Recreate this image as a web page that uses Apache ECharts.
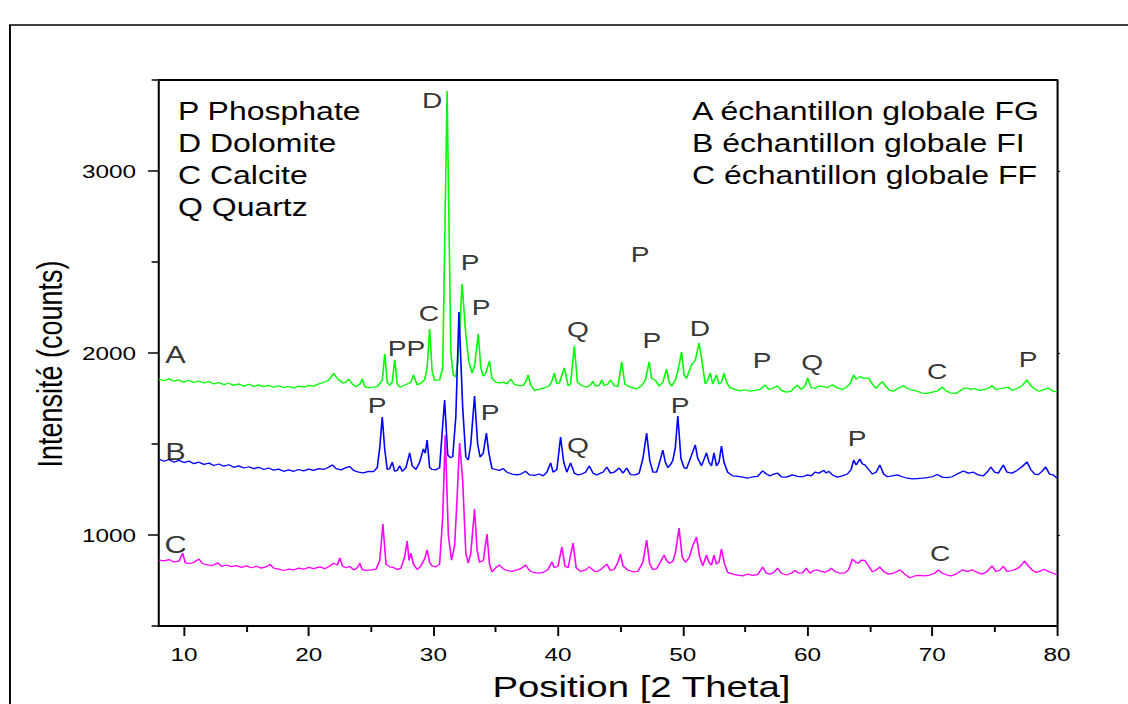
<!DOCTYPE html>
<html><head><meta charset="utf-8">
<script src="https://cdn.jsdelivr.net/npm/echarts@6/dist/echarts.min.js"></script>
<style>
html,body{margin:0;padding:0;background:#fff;overflow:hidden;width:1128px;height:704px}
#chart{width:881px;height:704px;transform:scaleX(1.280363);transform-origin:0 0;}
</style>
</head><body><div id="chart"></div>
<script>
// ---- data ----
const xTicks = [10,20,30,40,50,60,70,80];
const xMinorTicks = [15,25,35,45,55,65,75];
const yTicks = [1000,2000,3000];
const yMinorTicks = [500,1500,2500,3500];

const dataA = [[8.0,1855],[8.4,1848],[8.8,1858],[9.2,1845],[9.6,1852],[10.0,1840],[10.4,1850],[10.8,1838],[11.2,1846],[11.6,1835],[12.0,1843],[12.4,1830],[12.8,1838],[13.2,1826],[13.6,1834],[14.0,1822],[14.4,1830],[14.8,1818],[15.2,1828],[15.6,1816],[16.0,1825],[16.4,1815],[16.8,1822],[17.2,1812],[17.6,1820],[18.0,1810],[18.4,1816],[18.8,1808],[19.2,1818],[19.6,1812],[20.0,1822],[20.4,1818],[20.8,1830],[21.2,1838],[21.6,1850],[22.0,1888],[22.3,1860],[22.75,1835],[23.0,1840],[23.2,1857],[23.5,1830],[23.8,1815],[24.1,1828],[24.3,1857],[24.5,1815],[24.8,1808],[25.2,1812],[25.5,1815],[25.9,1850],[26.1,1995],[26.3,1840],[26.5,1822],[26.7,1840],[26.9,1962],[27.1,1830],[27.3,1812],[27.6,1820],[27.9,1830],[28.2,1840],[28.4,1879],[28.7,1825],[29.0,1835],[29.3,1852],[29.5,1920],[29.7,2132],[29.9,1900],[30.1,1850],[30.5,1852],[30.75,1920],[31.1,3440],[31.4,2000],[31.6,1880],[31.8,1868],[32.0,1980],[32.3,2379],[32.6,2100],[32.85,1950],[33.1,1890],[33.3,1930],[33.6,2104],[33.8,1920],[34.0,1872],[34.2,1890],[34.5,1956],[34.7,1860],[35.0,1840],[35.3,1835],[35.6,1840],[35.9,1830],[36.2,1857],[36.5,1828],[36.9,1820],[37.2,1822],[37.4,1840],[37.6,1879],[37.8,1825],[38.1,1795],[38.5,1800],[38.9,1808],[39.3,1820],[39.5,1845],[39.7,1890],[39.9,1830],[40.1,1835],[40.5,1918],[40.8,1820],[41.0,1830],[41.3,2038],[41.55,1840],[41.9,1820],[42.3,1812],[42.6,1825],[42.8,1845],[43.0,1818],[43.3,1822],[43.5,1852],[43.7,1820],[44.0,1830],[44.2,1852],[44.5,1820],[44.8,1815],[45.1,1951],[45.35,1830],[45.7,1815],[46.0,1808],[46.3,1802],[46.7,1820],[47.0,1850],[47.3,1951],[47.5,1860],[47.8,1850],[48.1,1818],[48.4,1840],[48.7,1912],[48.9,1840],[49.1,1818],[49.4,1850],[49.6,1900],[49.9,2005],[50.1,1880],[50.3,1860],[50.5,1900],[50.7,1935],[51.0,1960],[51.3,2055],[51.55,1950],[51.8,1830],[52.0,1850],[52.2,1890],[52.4,1830],[52.7,1880],[52.9,1830],[53.1,1840],[53.3,1890],[53.5,1840],[53.8,1808],[54.2,1800],[54.6,1792],[55.0,1798],[55.4,1790],[55.8,1795],[56.2,1800],[56.6,1824],[56.9,1800],[57.2,1805],[57.6,1820],[57.9,1795],[58.3,1785],[58.7,1790],[59.0,1815],[59.2,1822],[59.5,1800],[59.8,1820],[60.0,1863],[60.3,1810],[60.6,1805],[60.9,1818],[61.3,1815],[61.6,1810],[62.0,1825],[62.4,1808],[62.8,1800],[63.1,1812],[63.4,1830],[63.7,1879],[63.9,1855],[64.2,1870],[64.5,1862],[64.9,1862],[65.2,1830],[65.5,1805],[65.8,1830],[66.0,1841],[66.3,1815],[66.6,1795],[66.9,1790],[67.3,1808],[67.7,1820],[68.0,1805],[68.3,1798],[68.8,1790],[69.2,1780],[69.6,1778],[70.0,1785],[70.4,1790],[70.8,1813],[71.1,1792],[71.5,1780],[71.9,1778],[72.2,1790],[72.5,1805],[72.8,1808],[73.1,1800],[73.4,1805],[73.8,1795],[74.2,1800],[74.5,1805],[74.8,1820],[75.1,1800],[75.5,1805],[75.8,1808],[76.1,1812],[76.4,1795],[76.8,1805],[77.2,1820],[77.6,1852],[77.9,1820],[78.3,1798],[78.6,1790],[79.0,1800],[79.3,1808],[79.7,1790],[80.0,1786]];

const dataB = [[8.0,1418],[8.4,1405],[8.8,1415],[9.2,1400],[9.6,1410],[10.0,1398],[10.4,1406],[10.8,1392],[11.2,1400],[11.6,1388],[12.0,1395],[12.4,1382],[12.8,1390],[13.2,1378],[13.6,1386],[14.0,1372],[14.4,1380],[14.8,1368],[15.2,1375],[15.6,1365],[16.0,1372],[16.4,1360],[16.8,1368],[17.2,1356],[17.6,1362],[18.0,1350],[18.4,1358],[18.8,1350],[19.2,1360],[19.6,1352],[20.0,1362],[20.4,1355],[20.8,1365],[21.2,1360],[21.6,1372],[21.9,1385],[22.2,1365],[22.6,1358],[23.0,1370],[23.3,1376],[23.6,1355],[24.0,1345],[24.4,1341],[24.8,1350],[25.2,1348],[25.5,1370],[25.7,1480],[25.9,1648],[26.1,1470],[26.3,1360],[26.5,1365],[26.7,1400],[26.9,1350],[27.1,1355],[27.3,1380],[27.5,1350],[27.8,1370],[28.1,1451],[28.3,1380],[28.6,1360],[28.9,1400],[29.2,1473],[29.35,1450],[29.5,1522],[29.7,1370],[29.9,1360],[30.2,1358],[30.5,1370],[30.7,1560],[30.9,1742],[31.15,1440],[31.35,1425],[31.55,1430],[31.8,1650],[32.05,2225],[32.35,1700],[32.6,1430],[32.8,1412],[33.0,1500],[33.3,1764],[33.55,1500],[33.75,1428],[34.0,1450],[34.25,1560],[34.45,1450],[34.7,1365],[35.0,1360],[35.3,1355],[35.6,1365],[35.9,1345],[36.3,1335],[36.7,1330],[37.0,1335],[37.4,1350],[37.7,1330],[38.1,1328],[38.5,1335],[38.8,1325],[39.1,1345],[39.4,1396],[39.6,1345],[39.9,1360],[40.2,1538],[40.45,1400],[40.7,1345],[41.0,1396],[41.3,1340],[41.6,1330],[41.9,1335],[42.2,1345],[42.5,1379],[42.8,1340],[43.1,1330],[43.4,1340],[43.6,1345],[43.9,1374],[44.2,1340],[44.5,1345],[44.9,1368],[45.2,1340],[45.5,1368],[45.8,1332],[46.2,1330],[46.5,1340],[46.8,1420],[47.1,1560],[47.35,1410],[47.6,1345],[47.9,1345],[48.1,1390],[48.4,1467],[48.6,1400],[48.8,1370],[49.0,1385],[49.2,1410],[49.4,1480],[49.6,1654],[49.85,1420],[50.1,1370],[50.3,1365],[50.6,1420],[51.0,1495],[51.2,1420],[51.5,1380],[51.9,1451],[52.1,1400],[52.3,1380],[52.5,1451],[52.7,1380],[52.9,1400],[53.1,1489],[53.3,1400],[53.6,1345],[54.0,1325],[54.4,1322],[54.8,1318],[55.2,1312],[55.6,1320],[56.0,1322],[56.4,1352],[56.7,1335],[57.0,1325],[57.3,1335],[57.6,1340],[57.9,1320],[58.3,1318],[58.8,1330],[59.2,1322],[59.6,1320],[60.0,1330],[60.3,1325],[60.6,1345],[60.9,1340],[61.3,1355],[61.5,1340],[61.7,1350],[62.0,1330],[62.4,1318],[62.8,1325],[63.2,1335],[63.5,1360],[63.7,1412],[63.9,1385],[64.2,1418],[64.4,1390],[64.6,1385],[64.9,1360],[65.2,1335],[65.5,1345],[65.8,1385],[66.1,1335],[66.4,1320],[66.8,1325],[67.2,1330],[67.6,1320],[68.0,1312],[68.4,1308],[68.8,1310],[69.2,1312],[69.6,1315],[70.0,1320],[70.4,1332],[70.8,1318],[71.2,1315],[71.6,1320],[72.0,1335],[72.5,1352],[72.9,1340],[73.3,1345],[73.7,1330],[74.1,1325],[74.4,1345],[74.7,1374],[75.0,1345],[75.3,1340],[75.7,1385],[76.0,1345],[76.4,1340],[76.8,1355],[77.2,1375],[77.6,1401],[77.9,1360],[78.2,1335],[78.5,1332],[78.8,1350],[79.1,1374],[79.4,1335],[79.7,1330],[80.0,1313]];

const dataC = [[8.0,862],[8.4,858],[8.8,865],[9.2,852],[9.6,856],[9.9,901],[10.1,848],[10.4,842],[10.8,850],[11.2,868],[11.5,842],[11.9,836],[12.3,832],[12.7,848],[13.0,828],[13.4,835],[13.8,826],[14.2,832],[14.6,822],[15.0,830],[15.4,820],[15.8,828],[16.2,818],[16.6,826],[16.9,838],[17.2,818],[17.6,812],[18.0,805],[18.4,812],[18.8,808],[19.2,818],[19.6,812],[20.0,822],[20.4,815],[20.9,825],[21.3,815],[21.7,830],[22.0,845],[22.3,835],[22.5,874],[22.7,830],[23.0,820],[23.3,828],[23.6,808],[23.9,820],[24.1,845],[24.3,810],[24.6,806],[25.0,808],[25.4,812],[25.7,860],[25.95,1060],[26.2,840],[26.5,825],[26.8,822],[27.1,810],[27.4,818],[27.7,880],[27.9,967],[28.05,860],[28.2,901],[28.4,840],[28.7,810],[29.0,830],[29.3,870],[29.5,918],[29.7,850],[29.9,830],[30.2,825],[30.5,840],[30.75,1100],[30.95,1549],[31.2,1000],[31.45,862],[31.7,940],[31.9,1200],[32.1,1505],[32.35,1300],[32.6,900],[32.8,845],[33.0,900],[33.3,1143],[33.5,920],[33.7,850],[34.0,860],[34.3,1005],[34.5,840],[34.7,797],[35.0,820],[35.3,835],[35.6,815],[35.9,805],[36.3,800],[36.7,808],[37.0,815],[37.4,835],[37.7,805],[38.0,795],[38.4,790],[38.8,795],[39.2,810],[39.5,852],[39.7,820],[40.0,830],[40.3,934],[40.55,830],[40.8,820],[41.2,956],[41.45,820],[41.8,800],[42.2,808],[42.5,825],[42.9,802],[43.2,800],[43.5,815],[43.9,840],[44.2,805],[44.5,812],[44.8,850],[45.0,896],[45.2,830],[45.6,808],[46.0,798],[46.4,800],[46.8,850],[47.1,972],[47.35,840],[47.6,810],[47.9,815],[48.2,850],[48.5,890],[48.7,860],[48.9,845],[49.2,855],[49.4,900],[49.7,1038],[49.95,880],[50.2,850],[50.5,875],[50.8,940],[51.1,989],[51.35,880],[51.6,830],[51.9,890],[52.1,850],[52.3,835],[52.5,890],[52.7,840],[52.9,850],[53.1,923],[53.35,840],[53.6,795],[54.0,785],[54.4,780],[54.8,775],[55.2,785],[55.6,778],[56.0,782],[56.4,824],[56.7,790],[57.0,785],[57.3,795],[57.6,818],[57.9,790],[58.3,780],[58.7,790],[59.0,805],[59.3,790],[59.6,792],[59.9,818],[60.2,790],[60.5,805],[60.8,808],[61.1,800],[61.4,795],[61.7,805],[61.9,818],[62.2,800],[62.6,790],[63.0,792],[63.3,810],[63.6,868],[63.9,848],[64.1,845],[64.3,862],[64.6,860],[64.9,830],[65.2,798],[65.5,808],[65.8,824],[66.1,800],[66.5,785],[66.9,790],[67.4,808],[67.8,785],[68.2,765],[68.6,775],[69.0,778],[69.4,775],[69.8,780],[70.2,790],[70.5,808],[70.8,790],[71.2,780],[71.5,775],[71.9,785],[72.4,808],[72.8,800],[73.2,808],[73.6,795],[74.0,785],[74.4,800],[74.8,830],[75.1,800],[75.4,805],[75.7,828],[76.0,800],[76.4,805],[76.8,815],[77.1,830],[77.4,857],[77.7,830],[78.0,808],[78.3,795],[78.6,800],[79.0,812],[79.3,800],[79.7,790],[80.0,780]];

const peakText = ['D','P','C','P','PP','Q','P','P','D','P','Q','C','P','P','P','Q','P','P','C'];
const peakX = [29.9,32.94,29.65,33.82,27.85,41.6,46.57,47.53,51.38,56.36,60.37,70.39,77.69,25.48,34.55,41.6,49.78,63.97,70.63];
const peakY = [3390,2500,2220,2253,2027,2132,2544,2071,2137,1961,1950,1901,1967,1714,1676,1494,1714,1533,901];

const sampleText = ['A','B','C'];
const sampleX = [9.32,9.32,9.32];
const sampleY = [1989,1460,945];

const phaseLegend = ['P Phosphate','D Dolomite','C Calcite','Q Quartz'];
const sampleLegend = ['A échantillon globale FG','B échantillon globale FI','C échantillon globale FF'];
const xTitle = 'Position [2 Theta]';
const yTitle = 'Intensité (counts)';

// ---- chart ----
const FONT = '"Liberation Sans", Arial, sans-serif';
const chart = echarts.init(document.getElementById('chart'), null, {renderer: 'svg'});

const graphics = [
  {type:'rect', silent:true, z:-10, shape:{x:7.8, y:25, width:1300, height:1000}, style:{fill:'none', stroke:'#000', lineWidth:1.5}}
];
phaseLegend.forEach((t,i)=>graphics.push({type:'text', x:139, y:111+i*32, style:{text:t, font:'25px '+FONT, fill:'#000', textVerticalAlign:'middle', textAlign:'left'}}));
sampleLegend.forEach((t,i)=>graphics.push({type:'text', x:540.5, y:111+i*32, style:{text:t, font:'25px '+FONT, fill:'#000', textVerticalAlign:'middle', textAlign:'left'}}));
graphics.push({type:'text', x:501, y:687, style:{text:xTitle, font:'30px '+FONT, fill:'#000', textAlign:'center', textVerticalAlign:'middle'}});
graphics.push({type:'text', x:39, y:364, rotation:Math.PI/2, style:{text:yTitle, font:'27px '+FONT, fill:'#000', textAlign:'center', textVerticalAlign:'middle'}});

const labelStyle = (size)=>({show:true, position:'inside', formatter:p=>p.value[2], fontSize:size, fontFamily:FONT, color:'#000', align:'center', verticalAlign:'middle'});

chart.setOption({
  animation:false,
  backgroundColor:'#fff',
  grid:{left:124.2, right:55.5, top:80, bottom:78, containLabel:false},
  xAxis:[
    {type:'value', min:8, max:80, position:'bottom',
     axisLine:{show:true, onZero:false, lineStyle:{color:'#000', width:2}},
     axisTick:{show:true, customValues:xTicks, length:10, lineStyle:{color:'#000', width:1.5}},
     axisLabel:{show:true, customValues:xTicks, fontSize:19, fontFamily:FONT, color:'#000', margin:19, formatter:v=>String(v)},
     splitLine:{show:false}},
    {type:'value', min:8, max:80, position:'bottom',
     axisLine:{show:true, onZero:false, lineStyle:{color:'#000', width:2}},
     axisTick:{show:true, customValues:xMinorTicks, length:6, lineStyle:{color:'#000', width:1.5}},
     axisLabel:{show:false}, splitLine:{show:false}},
    {type:'value', min:8, max:80, position:'top',
     axisLine:{show:true, onZero:false, lineStyle:{color:'#000', width:2}},
     axisTick:{show:false}, axisLabel:{show:false}, splitLine:{show:false}}
  ],
  yAxis:[
    {type:'value', min:500, max:3500, position:'left',
     axisLine:{show:true, onZero:false, lineStyle:{color:'#000', width:1.6}},
     axisTick:{show:true, customValues:yTicks, length:8.6, lineStyle:{color:'#000', width:1.5}},
     axisLabel:{show:true, customValues:yTicks, fontSize:19, fontFamily:FONT, color:'#000', margin:18, formatter:v=>String(v)},
     splitLine:{show:false}},
    {type:'value', min:500, max:3500, position:'left',
     axisLine:{show:false, onZero:false},
     axisTick:{show:true, customValues:yMinorTicks, length:5.8, lineStyle:{color:'#000', width:1.5}},
     axisLabel:{show:false}, splitLine:{show:false}},
    {type:'value', min:500, max:3500, position:'right',
     axisLine:{show:true, onZero:false, lineStyle:{color:'#000', width:1.6}},
     axisTick:{show:true, customValues:yTicks, length:2.3, lineStyle:{color:'#000', width:1.2}},
     axisLabel:{show:false}, splitLine:{show:false}}
  ],
  graphic: graphics,
  series:[
    {type:'line', name:'A', data:dataA, showSymbol:false, symbol:'none', silent:true, lineStyle:{color:'#00ff00', width:1.25}},
    {type:'line', name:'B', data:dataB, showSymbol:false, symbol:'none', silent:true, lineStyle:{color:'#0000ff', width:1.25}},
    {type:'line', name:'C', data:dataC, showSymbol:false, symbol:'none', silent:true, lineStyle:{color:'#ff00ff', width:1.25}},
    {type:'scatter', silent:true, symbol:'circle', symbolSize:1, itemStyle:{color:'rgba(0,0,0,0)'}, z:5,
     data: peakX.map((x,i)=>[x, peakY[i], peakText[i]]),
     label: labelStyle(22)},
    {type:'scatter', silent:true, symbol:'circle', symbolSize:1, itemStyle:{color:'rgba(0,0,0,0)'}, z:5,
     data: sampleX.map((x,i)=>[x, sampleY[i], sampleText[i]]),
     label: labelStyle(24)}
  ]
});
</script>
</body></html>
